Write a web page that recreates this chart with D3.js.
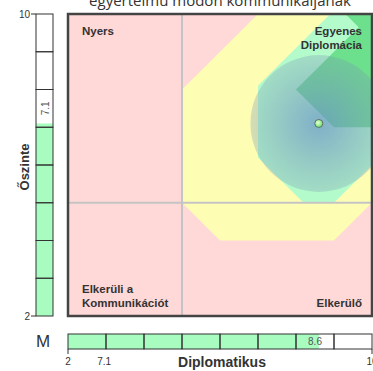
<!DOCTYPE html>
<html>
<head>
<meta charset="utf-8">
<script src="https://cdn.jsdelivr.net/npm/d3@7"></script>
<style>
  body { margin: 0; background: #fff; }
  svg { display: block; font-family: "Liberation Sans", Arial, sans-serif; }
</style>
</head>
<body>
<script>
'use strict';

// scores of the person (diplomatikus, őszinte)
const scoreX = 8.6;
const scoreY = 7.1;
const spread = 1.8; // radius of the blue halo, in score units

// axis range and tick labels
const axisMin = 2;
const axisMax = 10;
const cellSteps = [2, 3, 4, 5, 6, 7, 8, 9];
const leftTicks = [{ v: 10, label: "10" }, { v: 2, label: "2" }];
const bottomTicks = [{ v: 2, label: "2" }, { v: 2.95, label: "7.1" }, { v: 10, label: "10" }];
const divider = 5;

// zones, as polygons in score units
const yellowZone = [[5, 5], [5, 8], [7, 10], [10, 10], [10, 5], [9, 4], [6, 4]];
const lightGreenZone = [[7, 6.2], [7, 8.1], [8.9, 10], [10, 10], [10, 6], [9, 5], [8.2, 5]];
const darkGreenZone = [[8, 8], [10, 10], [10, 7], [9, 7]];
const darkGreenCorner = [[9.3, 10], [10, 10], [10, 9.3]];

// quadrant names
const quadrants = [
  { lines: ["Nyers"], corner: "tl" },
  { lines: ["Egyenes", "Diplomácia"], corner: "tr" },
  { lines: ["Elkerüli a", "Kommunikációt"], corner: "bl" },
  { lines: ["Elkerülő"], corner: "br" }
];
const title = "egyértelmű módon kommunikáljanak";

(function() {
  const svg = d3.select('body').append('svg')
    .attr('width', 373)
    .attr('height', 371);

  const x = d3.scaleLinear().domain([axisMin, axisMax]).range([68, 372]);
  const y = d3.scaleLinear().domain([axisMin, axisMax]).range([316, 14]);

  const defs = svg.append('defs');
  defs.append('clipPath').attr('id', 'plotClip')
    .append('rect')
    .attr('x', x(axisMin)).attr('y', y(axisMax))
    .attr('width', x(axisMax) - x(axisMin))
    .attr('height', y(axisMin) - y(axisMax));

  const halo = defs.append('radialGradient').attr('id', 'halo');
  halo.append('stop').attr('offset', '0%').attr('stop-color', 'rgb(106,146,200)').attr('stop-opacity', 0.72);
  halo.append('stop').attr('offset', '100%').attr('stop-color', 'rgb(120,150,180)').attr('stop-opacity', 0.3);

  const dotGrad = defs.append('radialGradient').attr('id', 'dotGrad')
    .attr('cx', '40%').attr('cy', '40%');
  dotGrad.append('stop').attr('offset', '0%').attr('stop-color', '#eaffe0');
  dotGrad.append('stop').attr('offset', '100%').attr('stop-color', '#7ee870');

  // title, cut by the top of the picture
  svg.append('text')
    .attr('x', 220)
    .attr('y', 6)
    .attr('text-anchor', 'middle')
    .style('font-family', '"Open Sans", sans-serif')
    .style('font-size', '15px')
    .style('fill', '#333')
    .text(title);

  // main plot
  const plot = svg.append('g').attr('clip-path', 'url(#plotClip)');
  const line = d3.line().x(d => x(d[0])).y(d => y(d[1]));

  plot.append('rect')
    .attr('x', x(axisMin)).attr('y', y(axisMax))
    .attr('width', x(axisMax) - x(axisMin))
    .attr('height', y(axisMin) - y(axisMax))
    .attr('fill', '#ffd8d8');

  plot.append('path').attr('d', line(yellowZone) + 'Z').attr('fill', '#fdfdb4');
  plot.append('path').attr('d', line(lightGreenZone) + 'Z').attr('fill', '#b4fbcc');
  plot.append('path').attr('d', line(darkGreenZone) + 'Z').attr('fill', '#6ce08c');
  plot.append('path').attr('d', line(darkGreenCorner) + 'Z').attr('fill', '#6ce08c');

  // divider lines
  plot.append('line')
    .attr('x1', x(divider)).attr('x2', x(divider))
    .attr('y1', y(axisMin)).attr('y2', y(axisMax))
    .attr('stroke', '#c4c4c4').attr('stroke-width', 2);
  plot.append('line')
    .attr('x1', x(axisMin)).attr('x2', x(axisMax))
    .attr('y1', y(divider)).attr('y2', y(divider))
    .attr('stroke', '#c4c4c4').attr('stroke-width', 2);

  // halo round the score
  plot.append('circle')
    .attr('cx', x(scoreX))
    .attr('cy', y(scoreY))
    .attr('r', x(axisMin + spread) - x(axisMin))
    .attr('fill', 'url(#halo)');

  plot.append('circle')
    .attr('cx', x(scoreX))
    .attr('cy', y(scoreY))
    .attr('r', 4)
    .attr('fill', 'url(#dotGrad)')
    .attr('stroke', '#556')
    .attr('stroke-width', 0.8);

  // quadrant labels
  quadrants.forEach(q => {
    const right = q.corner[1] === 'r';
    const top = q.corner[0] === 't';
    const tx = right ? x(axisMax) - 10 : x(axisMin) + 14;
    const n = q.lines.length;
    q.lines.forEach((t, i) => {
      const ty = top ? y(axisMax) + 21 + i * 14 : y(axisMin) - 9 - (n - 1 - i) * 14;
      svg.append('text')
        .attr('x', tx)
        .attr('y', ty)
        .attr('text-anchor', right ? 'end' : 'start')
        .style('font-size', '11.5px')
        .style('font-weight', 'bold')
        .style('fill', '#333')
        .text(t);
    });
  });

  // plot frame
  svg.append('rect')
    .attr('x', x(axisMin)).attr('y', y(axisMax))
    .attr('width', x(axisMax) - x(axisMin))
    .attr('height', y(axisMin) - y(axisMax))
    .attr('fill', 'none')
    .attr('stroke', '#444')
    .attr('stroke-width', 2.5);

  // left score bar (őszinte)
  const barL = 36, barR = 53;
  svg.append('rect')
    .attr('x', barL).attr('y', y(scoreY))
    .attr('width', barR - barL).attr('height', y(axisMin) - y(scoreY))
    .attr('fill', '#a8fcc0');
  svg.selectAll('.lcell')
    .data(cellSteps)
    .enter()
    .append('rect')
    .attr('class', 'lcell')
    .attr('x', barL).attr('y', d => y(d + 1))
    .attr('width', barR - barL).attr('height', d => y(d) - y(d + 1))
    .attr('fill', 'none').attr('stroke', '#333').attr('stroke-width', 1);

  svg.append('text')
    .attr('transform', 'translate(' + ((barL + barR) / 2 + 4) + ',' + y(Math.floor(scoreY) + 0.5) + ')rotate(-90)')
    .attr('text-anchor', 'middle')
    .style('font-size', '10px')
    .style('fill', '#555')
    .text(scoreY.toFixed(1));

  leftTicks.forEach(t => {
    svg.append('line')
      .attr('x1', barL - 5).attr('x2', barL)
      .attr('y1', y(t.v)).attr('y2', y(t.v))
      .attr('stroke', '#333');
    svg.append('text')
      .attr('x', barL - 6).attr('y', y(t.v) + 3.5)
      .attr('text-anchor', 'end')
      .style('font-size', '10px')
      .style('fill', '#333')
      .text(t.label);
  });

  svg.append('text')
    .attr('transform', 'translate(29,167)rotate(-90)')
    .attr('text-anchor', 'middle')
    .style('font-size', '13px')
    .style('font-weight', 'bold')
    .style('fill', '#333')
    .text('Őszinte');

  // bottom score bar (diplomatikus)
  const barT = 334, barB = 349;
  svg.append('rect')
    .attr('x', x(axisMin)).attr('y', barT)
    .attr('width', x(scoreX) - x(axisMin)).attr('height', barB - barT)
    .attr('fill', '#a8fcc0');
  svg.selectAll('.bcell')
    .data(cellSteps)
    .enter()
    .append('rect')
    .attr('class', 'bcell')
    .attr('x', d => x(d)).attr('y', barT)
    .attr('width', d => x(d + 1) - x(d)).attr('height', barB - barT)
    .attr('fill', 'none').attr('stroke', '#333').attr('stroke-width', 1);

  svg.append('text')
    .attr('x', x(Math.floor(scoreX) + 0.5))
    .attr('y', barB - 4)
    .attr('text-anchor', 'middle')
    .style('font-size', '10px')
    .style('fill', '#555')
    .text(scoreX.toFixed(1));

  [axisMin, axisMax].forEach(v => {
    svg.append('line')
      .attr('x1', x(v)).attr('x2', x(v))
      .attr('y1', barB).attr('y2', barB + 5)
      .attr('stroke', '#333');
  });
  bottomTicks.forEach(t => {
    svg.append('text')
      .attr('x', x(t.v)).attr('y', 365)
      .attr('text-anchor', 'middle')
      .style('font-size', '10px')
      .style('fill', '#333')
      .text(t.label);
  });

  svg.append('text')
    .attr('x', 43).attr('y', 347)
    .attr('text-anchor', 'middle')
    .style('font-size', '17px')
    .style('fill', '#333')
    .text('M');

  svg.append('text')
    .attr('x', 222).attr('y', 367)
    .attr('text-anchor', 'middle')
    .style('font-size', '14px')
    .style('font-weight', 'bold')
    .style('fill', '#333')
    .text('Diplomatikus');
})();
</script>
</body>
</html>
